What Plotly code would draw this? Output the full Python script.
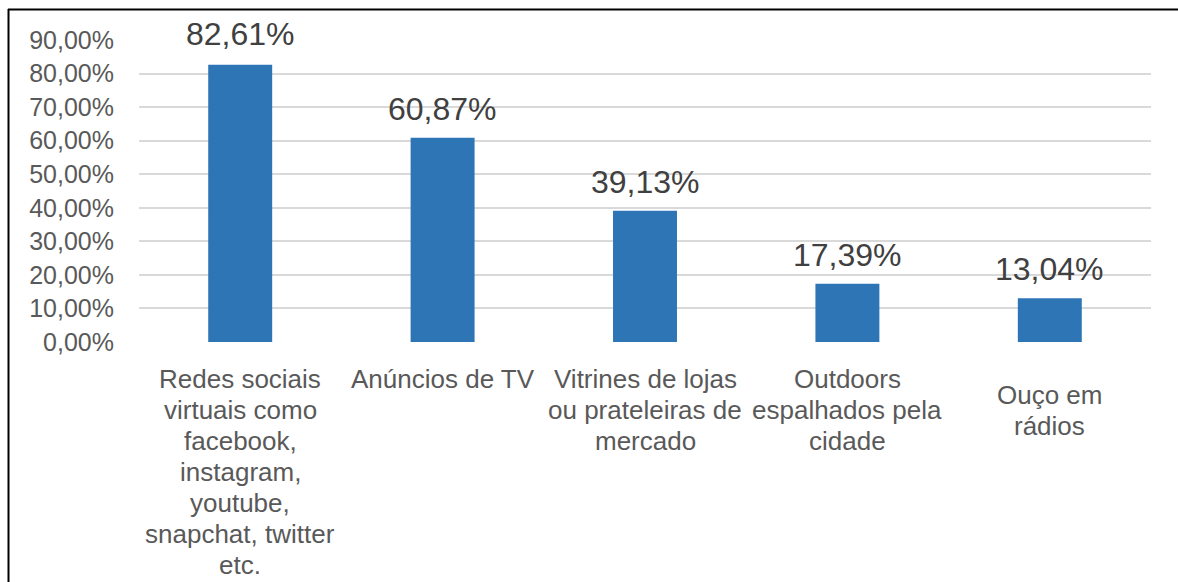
import plotly.graph_objects as go

categories = [
    "Redes sociais<br>virtuais como<br>facebook,<br>instagram,<br>youtube,<br>snapchat, twitter<br>etc.",
    "Anúncios de TV",
    "Vitrines de lojas<br>ou prateleiras de<br>mercado",
    "Outdoors<br>espalhados pela<br>cidade",
    "Ouço em<br>rádios",
]
values = [0.8261, 0.6087, 0.3913, 0.1739, 0.1304]
tick_values = [0, 0.1, 0.2, 0.3, 0.4, 0.5, 0.6, 0.7, 0.8, 0.9]

FONT = "Arial, Liberation Sans, sans-serif"
BAR_COLOR = "#2E75B6"

W, H = 1178, 582
ML, MR, MT, MB = 139, 27, 40, 240
PW, PH = W - ML - MR, H - MT - MB

fig = go.Figure()
fig.add_trace(go.Bar(
    x=list(range(len(categories))),
    y=values,
    marker=dict(color=BAR_COLOR, line=dict(width=0)),
    hoverinfo="skip",
))

annotations = []
for i, v in enumerate(values):
    label = f"{v*100:.2f}".replace(".", ",") + "%"
    annotations.append(dict(
        x=i, y=v, xref="x", yref="y", text=label, showarrow=False,
        yanchor="bottom", yshift=11 if i == 0 else 9,
        font=dict(family=FONT, size=32, color="#404040"),
    ))
LINE_STEP = 31
for i, c in enumerate(categories):
    base = 20 + (16 if i == len(categories) - 1 else 0)
    for k, line in enumerate(c.split("<br>")):
        annotations.append(dict(
            x=i, y=0, xref="x", yref="paper", text=line, showarrow=False,
            yanchor="top", yshift=-(base + k * LINE_STEP),
            align="center",
            font=dict(family=FONT, size=26, color="#595959"),
        ))

def px_x(px):
    return (px - ML) / PW

def px_y(py):
    return (H - MB - py) / PH

fig.update_layout(
    width=W, height=H,
    margin=dict(l=ML, r=MR, t=MT, b=MB),
    paper_bgcolor="white", plot_bgcolor="white",
    separators=",.",
    bargap=0.684,
    showlegend=False,
    annotations=annotations,
    font=dict(family=FONT, color="#595959"),
    shapes=[
        dict(type="line", xref="paper", yref="paper",
             x0=px_x(8.5), x1=px_x(8.5), y0=px_y(H + 20), y1=px_y(9),
             line=dict(color="black", width=2), layer="above"),
        dict(type="line", xref="paper", yref="paper",
             x0=px_x(8), x1=px_x(W + 20), y0=px_y(9.5), y1=px_y(9.5),
             line=dict(color="black", width=2), layer="above"),
    ],
)
fig.update_xaxes(
    range=[-0.5, len(categories) - 0.5],
    showticklabels=False, showgrid=False, zeroline=False, showline=False,
    fixedrange=True,
)
fig.update_yaxes(
    range=[0, 0.9], tickvals=tick_values, tickformat=".2%",
    showgrid=True, gridcolor="#D9D9D9", gridwidth=1.5,
    zeroline=False, showline=False,
    tickfont=dict(family=FONT, size=25, color="#595959"),
    ticklabelstandoff=24,
    fixedrange=True,
)

fig.write_html(
    "out.html",
    config={"displayModeBar": False},
    post_script="document.body.style.margin='0';"
                "document.documentElement.style.overflow='hidden';"
                "document.body.style.overflow='hidden';",
)
